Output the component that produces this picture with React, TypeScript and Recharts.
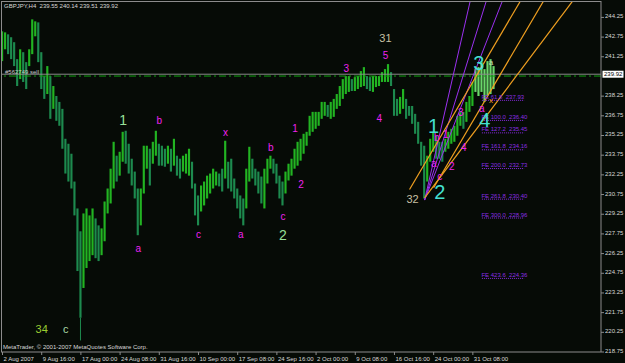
import React from 'react';
import { ComposedChart, Bar, XAxis, YAxis, ReferenceLine, ReferenceDot } from 'recharts';

const W = 625;
const H = 363;
const SLOTS = 199;
const FONT = '"Liberation Sans", Arial, sans-serif';

// H4 price bars (compressed: one slot ~ 2.5 bars), highs and lows in JPY
const highs = [
  243.19, 243.11, 242.96, 242.74, 242.36, 241.07, 241.82, 241.60, 240.84, 241.82,
  244.10, 243.95, 243.87, 241.60, 239.78, 240.54, 239.78, 239.02, 238.26, 237.81,
  237.28, 235.00, 234.62, 233.86, 231.74, 229.69, 227.95, 229.31, 229.69, 229.16,
  229.69, 228.93, 228.40, 228.17, 230.22, 231.21, 232.72, 234.77, 233.71, 234.01,
  235.53, 235.61, 234.62, 233.48, 232.50, 231.21, 231.21, 234.47, 234.47, 234.24,
  234.77, 235.61, 234.62, 234.47, 234.24, 234.47, 234.24, 235.00, 233.71, 233.48,
  233.71, 233.86, 234.24, 233.25, 231.59, 230.68, 231.44, 231.74, 232.19, 232.35,
  232.72, 232.50, 232.35, 232.72, 234.85, 233.25, 233.48, 231.97, 231.21, 230.68,
  230.45, 232.72, 234.39, 233.48, 232.72, 232.50, 232.12, 232.72, 233.48, 233.71,
  233.48, 233.10, 232.19, 231.74, 232.50, 233.10, 233.48, 234.24, 234.77, 235.00,
  235.38, 235.53, 236.75, 237.05, 237.05, 237.05, 237.81, 237.81, 237.58, 237.81,
  238.04, 238.41, 239.02, 239.55, 239.78, 239.78, 239.55, 239.70, 239.78, 240.16,
  240.46, 239.78, 239.70, 239.78, 239.78, 239.78, 240.08, 240.31, 240.69, 240.08,
  238.79, 238.04, 238.19, 238.79, 238.04, 237.50, 237.50, 236.90, 236.29, 234.77,
  234.47, 233.71, 235.00, 235.53, 235.23, 234.77, 234.77, 235.00, 235.53, 235.76,
  235.99, 236.75, 237.05, 237.05, 237.81, 238.26, 239.33, 240.31, 240.46, 240.84,
  240.31, 240.92, 241.07, 240.54,
];
const lows = [
  240.92, 241.82, 241.45, 241.07, 240.54, 239.02, 239.55, 239.33, 238.79, 240.54,
  241.45, 242.81, 240.84, 238.79, 238.04, 238.41, 236.52, 237.28, 236.37, 235.99,
  234.24, 232.35, 231.74, 231.21, 229.16, 224.92, 221.36, 223.63, 225.15, 225.68,
  226.13, 225.90, 225.68, 226.13, 227.19, 229.31, 230.07, 231.21, 231.74, 232.19,
  233.25, 233.10, 232.35, 231.44, 230.45, 227.65, 228.40, 230.83, 232.72, 231.44,
  233.10, 233.71, 232.95, 232.95, 232.87, 233.10, 232.50, 232.95, 232.19, 231.97,
  232.50, 232.35, 232.19, 231.21, 229.16, 228.40, 229.46, 229.92, 230.45, 230.83,
  231.21, 231.44, 231.37, 230.98, 231.97, 231.21, 230.98, 230.45, 229.69, 228.93,
  228.40, 229.69, 231.74, 231.97, 231.44, 230.83, 230.07, 229.69, 231.59, 232.72,
  232.35, 231.59, 230.45, 229.92, 230.83, 231.82, 232.19, 232.72, 232.95, 233.33,
  233.86, 234.47, 235.23, 235.53, 235.76, 235.99, 236.52, 236.75, 236.67, 236.52,
  236.67, 237.28, 237.50, 238.04, 238.41, 238.57, 238.64, 238.64, 238.79, 238.94,
  239.02, 238.79, 238.64, 238.57, 238.94, 239.02, 239.33, 239.33, 239.33, 239.02,
  236.75, 236.75, 236.90, 237.28, 236.52, 236.75, 236.14, 235.38, 234.62, 232.95,
  230.45, 231.74, 233.25, 234.01, 233.48, 233.48, 233.25, 234.01, 234.24, 234.62,
  234.77, 235.23, 235.99, 235.76, 236.29, 237.05, 237.50, 238.57, 238.26, 238.57,
  237.81, 238.26, 238.41, 238.79,
];
const spikes = [{ slot: 26, low: 219.63 }];
const lateFrom = 157;

const xLabels = [
  '2 Aug 2007', '9 Aug 16:00', '17 Aug 00:00', '24 Aug 08:00', '31 Aug 16:00',
  '10 Sep 00:00', '17 Sep 08:00', '24 Sep 16:00', '2 Oct 00:00', '9 Oct 08:00',
  '16 Oct 16:00', '24 Oct 00:00', '31 Oct 08:00',
];
const xLabelEvery = 13;
const yTicks = [
  244.25, 242.75, 241.25, 238.25, 236.75, 235.25, 233.75, 232.25, 230.75,
  229.25, 227.75, 226.25, 224.75, 223.25, 221.75, 220.25, 218.75,
];
const yDomain = [218.75, 245.5];

const lastPrice = 239.92;
const orderPrice = 239.78;
const orderText = '#562749 sell';
const titleText = 'GBPJPY,H4  239.55 240.14 239.51 239.92';
const copyrightText = 'MetaTrader, \u00a9 2001-2007 MetaQuotes Software Corp.';

const fibNames = ['FE 61.8', 'FE 100.0', 'FE 127.2', 'FE 161.8', 'FE 200.0', 'FE 261.8', 'FE 300.0', 'FE 423.6'];
const fibPrices = [237.93, 236.40, 235.45, 234.16, 232.73, 230.40, 228.96, 224.36];
const fibFrom = 159;
const fibTo = 173;

// [slotA, priceA, slotB, priceB]
const orangeLines = [
  [135, 231.13, 175, 246.76],
  [143, 231.27, 183, 246.89],
  [140, 230.49, 195, 247.30],
];
const purpleLines = [
  [140, 230.33, 157, 247.38],
  [140, 230.33, 165, 248.87],
  [140, 230.33, 172, 249.15],
];

// [text, slot, price, kind]
const waves: [string, number, number, string][] = [
  ['34', 13, 220.50, 'yg'],
  ['c', 21, 220.50, 'pc'],
  ['1', 40, 236.43, 'pg'],
  ['b', 52, 236.43, 'm'],
  ['a', 45, 226.64, 'm'],
  ['c', 65, 227.70, 'm'],
  ['x', 74, 235.48, 'm'],
  ['a', 79, 227.70, 'm'],
  ['b', 89, 234.33, 'm'],
  ['c', 93, 229.07, 'm'],
  ['2', 93, 227.70, 'pg'],
  ['1', 97, 235.78, 'm'],
  ['2', 99, 231.55, 'm'],
  ['3', 114, 240.36, 'm'],
  ['5', 127, 241.38, 'm'],
  ['31', 127, 242.68, 'tan'],
  ['4', 125, 236.54, 'm'],
  ['32', 136, 230.41, 'tan'],
  ['a', 143, 233.15, 'm'],
  ['c', 145, 232.09, 'm'],
  ['b', 144, 235.13, 'm'],
  ['1', 147, 235.29, 'm'],
  ['2', 149, 232.89, 'm'],
  ['3', 152, 237.02, 'm'],
  ['4', 153, 234.30, 'm'],
  ['a', 159, 237.31, 'm'],
  ['a', 162, 240.85, 'tiny'],
  ['x', 162, 237.95, 'ox'],
  ['1', 143, 235.97, 'big'],
  ['2', 145, 230.98, 'big'],
  ['3', 158, 240.81, 'big'],
  ['4', 160, 236.43, 'big'],
];

const KIND: Record<string, { color: string; size: number }> = {
  m: { color: '#ee22ee', size: 10 },
  big: { color: '#44e0d0', size: 20 },
  pg: { color: '#98e098', size: 14 },
  tan: { color: '#c8c0a4', size: 11 },
  yg: { color: '#9acd32', size: 11 },
  pc: { color: '#a8d8a8', size: 11 },
  tiny: { color: '#c8d8a8', size: 8 },
  ox: { color: '#ffa020', size: 8 },
};

const BG = '#060b06';
const FRAME = '#8c8c8c';
const TXT = '#d8d8d8';
const UP = '#22b422';
const DOWN = '#1d8a4e';
const LATE = '#6ad86a';
const ORANGE = '#f0a020';
const PURPLE = '#9b30f0';
const FIB = '#8a2be2';

const table = Array.from({ length: SLOTS }, (_, i) => {
  if (i >= highs.length) return { i, range: null as any };
  const mid = highs[i] + lows[i];
  const prev = i > 0 ? highs[i - 1] + lows[i - 1] : mid;
  const sp = spikes.find((s) => s.slot === i);
  return {
    i,
    range: [lows[i], highs[i]],
    up: mid >= prev,
    late: i >= lateFrom,
    wick: sp ? sp.low : null,
  };
});
const tickSlots = xLabels.map((_, k) => k * xLabelEvery);

function PriceBar(props: any) {
  const { x, width, payload } = props;
  let { y, height } = props;
  if (!payload || !payload.range || !Number.isFinite(y) || !Number.isFinite(height)) return null;
  if (height < 0) {
    y += height;
    height = -height;
  }
  const color = payload.late ? LATE : payload.up ? UP : DOWN;
  const bw = width * 0.72;
  const els = [<rect key="b" x={x} y={y} width={bw} height={Math.max(height, 1)} fill={color} />];
  if (payload.wick != null) {
    const [lo, hi] = payload.range;
    const ppp = height / (hi - lo);
    const yEnd = y + height + (lo - payload.wick) * ppp;
    els.push(
      <line key="w" x1={x + bw / 2} x2={x + bw / 2} y1={y + height} y2={yEnd} stroke={color} strokeWidth={1} />
    );
  }
  return <g>{els}</g>;
}

function XTick(p: any) {
  const { x, y, payload } = p;
  const label = xLabels[Math.round(payload.value / xLabelEvery)];
  return (
    <g>
      <line x1={x} x2={x} y1={y} y2={y + 3} stroke={FRAME} />
      <text x={x + 1} y={y + 8.5} fontSize={6} fill={TXT} fontFamily={FONT} textAnchor="start">
        {label}
      </text>
    </g>
  );
}

function YTick(p: any) {
  const { x, y, payload } = p;
  return (
    <g>
      <line x1={x} x2={x + 3} y1={y} y2={y} stroke={FRAME} />
      <text x={x + 4} y={y + 1} fontSize={6} fill={TXT} fontFamily={FONT} textAnchor="start">
        {Number(payload.value).toFixed(2)}
      </text>
    </g>
  );
}

export default function App() {
  return (
    <div style={{ position: 'absolute', left: 0, top: 0, width: W, height: H, background: BG, overflow: 'hidden' }}>
      <ComposedChart
        width={W}
        height={H}
        data={table}
        margin={{ top: 1, right: 0, bottom: 0, left: 1 }}
        barCategoryGap={0}
        barGap={0}
      >
        <XAxis
          dataKey="i"
          type="category"
          height={11}
          ticks={tickSlots}
          interval={0}
          tickSize={0}
          tickMargin={0}
          tickLine={false}
          axisLine={{ stroke: FRAME }}
          tick={(p: any) => <XTick {...p} />}
        />
        <YAxis
          orientation="right"
          width={24}
          type="number"
          domain={yDomain}
          allowDataOverflow
          ticks={yTicks}
          interval={0}
          tickSize={0}
          tickMargin={0}
          tickLine={false}
          axisLine={{ stroke: FRAME }}
          tick={(p: any) => <YTick {...p} />}
        />
        <Bar dataKey="range" isAnimationActive={false} shape={(p: any) => <PriceBar {...p} />} />

        <ReferenceLine
          y={orderPrice}
          stroke="#10a010"
          strokeDasharray="7 3 2 3"
          label={(lp: any) => (
            <text x={lp.viewBox.x + 4} y={lp.viewBox.y - 2.5} fontSize={6} fill="#c8c8c8" fontFamily={FONT}>
              {orderText}
            </text>
          )}
        />
        <ReferenceLine
          y={lastPrice}
          stroke="#8a8a8a"
          label={(lp: any) => (
            <g>
              <rect x={lp.viewBox.x + lp.viewBox.width + 1.5} y={lp.viewBox.y - 3.5} width={21} height={7} fill="#ffffff" />
              <text x={lp.viewBox.x + lp.viewBox.width + 3} y={lp.viewBox.y + 2.2} fontSize={6} fill="#000" fontFamily={FONT}>
                {lastPrice.toFixed(2)}
              </text>
            </g>
          )}
        />

        {purpleLines.map((l, k) => (
          <ReferenceLine
            key={'p' + k}
            segment={[{ x: l[0], y: l[1] }, { x: l[2], y: l[3] }]}
            stroke={PURPLE}
            strokeWidth={1}
            ifOverflow="hidden"
          />
        ))}
        {orangeLines.map((l, k) => (
          <ReferenceLine
            key={'o' + k}
            segment={[{ x: l[0], y: l[1] }, { x: l[2], y: l[3] }]}
            stroke={ORANGE}
            strokeWidth={1.2}
            ifOverflow="hidden"
          />
        ))}

        {fibPrices.map((fp, k) => (
          <ReferenceLine
            key={'f' + k}
            segment={[{ x: fibFrom, y: fp }, { x: fibTo, y: fp }]}
            stroke={FIB}
            strokeDasharray="1 1"
            ifOverflow="visible"
          />
        ))}
        {fibPrices.map((fp, k) => (
          <ReferenceDot
            key={'fl' + k}
            x={fibFrom}
            y={fp}
            r={0}
            ifOverflow="visible"
            shape={(p: any) => (
              <text x={p.cx - 0.5} y={p.cy - 1.5} fontSize={6} fill={FIB} fontFamily={FONT} style={{ whiteSpace: 'pre' }}>
                {fibNames[k] + '  ' + fp.toFixed(2)}
              </text>
            )}
          />
        ))}

        {waves.map((w, k) => (
          <ReferenceDot
            key={'w' + k}
            x={w[1]}
            y={w[2]}
            r={0}
            ifOverflow="visible"
            shape={(p: any) => (
              <text
                x={p.cx}
                y={p.cy}
                fontSize={KIND[w[3]].size}
                fill={KIND[w[3]].color}
                fontFamily={FONT}
                textAnchor="middle"
                dominantBaseline="central"
              >
                {w[0]}
              </text>
            )}
          />
        ))}
      </ComposedChart>
      <svg width={W} height={H} style={{ position: 'absolute', left: 0, top: 0, pointerEvents: 'none' }}>
        <line x1={1.5} x2={1.5} y1={1} y2={352} stroke={FRAME} />
        <line x1={1} x2={601} y1={1.5} y2={1.5} stroke={FRAME} />
        <text x={4} y={8} fontSize={6} fill={TXT} fontFamily={FONT} style={{ whiteSpace: 'pre' }}>
          {titleText}
        </text>
        <text x={3} y={349} fontSize={6} fill={TXT} fontFamily={FONT}>
          {copyrightText}
        </text>
      </svg>
    </div>
  );
}
